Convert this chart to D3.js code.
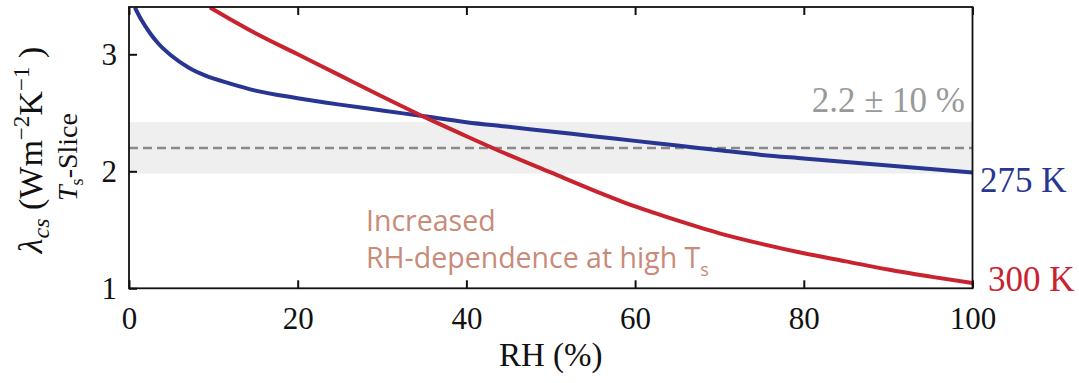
<!DOCTYPE html>
<html><head><meta charset="utf-8">
<script src="https://cdn.jsdelivr.net/npm/d3@7"></script>
<style>body{margin:0;background:#fff}</style>
</head><body>
<svg id="c" width="1079" height="383"></svg>
<script>
const rh275 = [0.7, 1.5, 2.5, 3.5, 5, 7, 9, 12, 15, 20, 25, 30, 35, 40, 45, 50, 55, 60, 65, 70, 75, 80, 85, 90, 95, 100];
const lam275 = [3.40, 3.29, 3.18, 3.09, 2.99, 2.89, 2.82, 2.75, 2.69, 2.625, 2.57, 2.52, 2.47, 2.42, 2.38, 2.34, 2.30, 2.26, 2.22, 2.18, 2.14, 2.11, 2.08, 2.05, 2.02, 1.99];
const rh300 = [9.6, 12, 15, 20, 25, 30, 35, 40, 45, 50, 55, 60, 65, 70, 75, 80, 85, 90, 95, 100];
const lam300 = [3.40, 3.30, 3.18, 3.00, 2.82, 2.64, 2.465, 2.30, 2.14, 1.99, 1.84, 1.70, 1.58, 1.47, 1.38, 1.30, 1.23, 1.16, 1.10, 1.045];
const xTicks = [0, 20, 40, 60, 80, 100];
const yTicks = [1, 2, 3];
const refValue = 2.2, refFrac = 0.10;

const svg = d3.select("#c");
const L = 129, R = 972.5, T = 7, B = 288.3;
const x = d3.scaleLinear().domain([0, 100]).range([L, R]);
const y = d3.scaleLinear().domain([1, 3.4]).range([B, B - 2.4 * 117]);
const serif = "'Liberation Serif', serif";

svg.append("clipPath").attr("id", "pc").append("rect")
  .attr("x", L).attr("y", T).attr("width", R - L).attr("height", B - T);

// band
svg.append("rect").attr("x", L).attr("width", R - L)
  .attr("y", y(refValue * (1 + refFrac))).attr("height", y(refValue * (1 - refFrac)) - y(refValue * (1 + refFrac)))
  .attr("fill", "#efefef");
svg.append("line").attr("x1", L).attr("x2", R).attr("y1", y(refValue)).attr("y2", y(refValue))
  .attr("stroke", "#8a8a8a").attr("stroke-width", 2.5).attr("stroke-dasharray", "9,5");

const line = d3.line().x(d => x(d[0])).y(d => y(d[1])).curve(d3.curveMonotoneX);
const g = svg.append("g").attr("clip-path", "url(#pc)");
g.append("path").datum(rh275.map((r, i) => [r, lam275[i]])).attr("d", line)
  .attr("fill", "none").attr("stroke", "#283593").attr("stroke-width", 4);
g.append("path").datum(rh300.map((r, i) => [r, lam300[i]])).attr("d", line)
  .attr("fill", "none").attr("stroke", "#c8232f").attr("stroke-width", 4);

// frame
svg.append("rect").attr("x", L).attr("y", T).attr("width", R - L).attr("height", B - T)
  .attr("fill", "none").attr("stroke", "#111").attr("stroke-width", 1.8);

// axes
const xb = svg.append("g").attr("transform", `translate(0,${B})`)
  .call(d3.axisBottom(x).tickValues(xTicks).tickSizeInner(-8).tickSizeOuter(0).tickPadding(14));
const xt = svg.append("g").attr("transform", `translate(0,${T})`)
  .call(d3.axisTop(x).tickValues(xTicks).tickSizeInner(-8).tickSizeOuter(0).tickFormat(""));
const yl = svg.append("g").attr("transform", `translate(${L},0)`)
  .call(d3.axisLeft(y).tickValues(yTicks).tickSizeInner(-8).tickSizeOuter(0).tickPadding(12).tickFormat(d3.format("d")));
[xb, xt, yl].forEach(a => {
  a.select(".domain").remove();
  a.selectAll(".tick line").attr("stroke", "#111").attr("stroke-width", 2);
  a.selectAll("text").attr("font-family", serif).attr("font-size", 31).attr("fill", "#111");
});
xb.selectAll(".tick text").attr("dy", "0.85em");

// x label
svg.append("text").attr("x", (L + R) / 2).attr("y", 366).attr("text-anchor", "middle")
  .attr("font-family", serif).attr("font-size", 33).attr("fill", "#111").text("RH (%)");

// y labels
const yl1 = svg.append("text").attr("transform", "translate(42,150) rotate(-90)")
  .attr("text-anchor", "middle").attr("font-family", serif).attr("font-size", 34).attr("fill", "#111");
yl1.append("tspan").attr("font-style", "italic").text("λ");
yl1.append("tspan").attr("font-style", "italic").attr("font-size", 24).attr("dy", 7).text("cs");
yl1.append("tspan").attr("dy", -7).text(" (Wm");
yl1.append("tspan").attr("font-size", 23).attr("dy", -13).text("−2");
yl1.append("tspan").attr("dy", 13).text("K");
yl1.append("tspan").attr("font-size", 23).attr("dy", -13).text("−1");
yl1.append("tspan").attr("dy", 13).text(" )");

const yl2 = svg.append("text").attr("transform", "translate(77,157) rotate(-90)")
  .attr("text-anchor", "middle").attr("font-family", serif).attr("font-size", 28).attr("fill", "#111");
yl2.append("tspan").attr("font-style", "italic").text("T");
yl2.append("tspan").attr("font-size", 18).attr("dy", 6).text("s");
yl2.append("tspan").attr("dy", -6).text("-Slice");

// band label
svg.append("text").attr("x", 965).attr("y", 112).attr("text-anchor", "end")
  .attr("font-family", serif).attr("font-size", 35).attr("fill", "#999").text("2.2 ± 10 %");

// series labels
svg.append("text").attr("x", 980).attr("y", 192).attr("font-family", serif).attr("font-size", 35)
  .attr("fill", "#283593").text("275 K");
svg.append("text").attr("x", 988).attr("y", 291).attr("font-family", serif).attr("font-size", 35)
  .attr("fill", "#c8232f").text("300 K");

// annotation
const ann = "#c98b78";
svg.append("text").attr("x", 366).attr("y", 231).attr("font-family", "'Open Sans', sans-serif")
  .attr("font-size", 28.5).attr("fill", ann).text("Increased");
const a2 = svg.append("text").attr("x", 366).attr("y", 268).attr("font-family", "'Open Sans', sans-serif")
  .attr("font-size", 28.5).attr("fill", ann);
a2.append("tspan").text("RH-dependence at high T");
a2.append("tspan").attr("font-size", 18).attr("dy", 8).text("s");
</script>
</body></html>
